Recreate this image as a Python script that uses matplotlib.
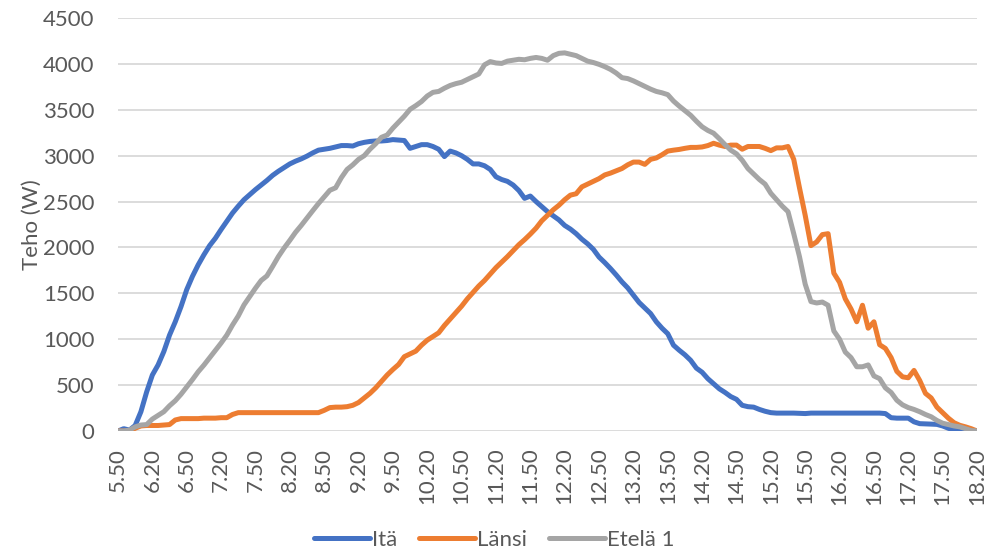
import matplotlib
matplotlib.use("Agg")
import matplotlib.pyplot as plt
import numpy as np

plt.rcParams['font.family'] = ['Lato', 'DejaVu Sans']

tick_labels = ["5.50", "6.20", "6.50", "7.20", "7.50", "8.20", "8.50", "9.20", "9.50",
               "10.20", "10.50", "11.20", "11.50", "12.20", "12.50", "13.20", "13.50",
               "14.20", "14.50", "15.20", "15.50", "16.20", "16.50", "17.20", "17.50", "18.20"]

ita = [0, 25, 10, 60, 210, 425, 610, 720, 865, 1045, 1190, 1355, 1540, 1685, 1810,
       1920, 2020, 2100, 2195, 2285, 2375, 2450, 2520, 2575, 2630, 2680, 2730, 2785,
       2830, 2870, 2910, 2940, 2965, 2995, 3030, 3060, 3070, 3080, 3095, 3110, 3110,
       3105, 3130, 3145, 3155, 3160, 3160, 3165, 3175, 3170, 3165, 3080, 3100, 3120,
       3120, 3100, 3070, 2990, 3050, 3030, 3000, 2960, 2910, 2910, 2890, 2850, 2770,
       2740, 2720, 2680, 2620, 2535, 2560, 2500, 2445, 2390, 2345, 2300, 2240, 2200, 2150,
       2090, 2040, 1980, 1895, 1835, 1770, 1700, 1625, 1560, 1480, 1400, 1340, 1280,
       1190, 1120, 1060, 935, 880, 830, 770, 685, 640, 570, 515, 460, 420, 375, 345,
       280, 265, 260, 235, 215, 200, 195, 195, 195, 195, 192, 190,
       195, 195, 195, 195, 195, 195, 195, 195, 195, 195, 195, 195, 195, 190, 145, 140,
       140, 140, 100, 80, 78, 75, 72, 55, 30, 10, 0, 0, 0, 0]

lansi = [0, 0, 0, 30, 55, 60, 60, 60, 65, 70, 120, 135, 135, 135, 135, 140, 140, 140,
         145, 145, 180, 200, 200, 200, 200, 200, 200, 200, 200, 200, 200, 200, 200, 200,
         200, 200, 225, 255, 260, 260, 265,
         280, 310, 360, 410, 470, 540, 610, 670, 725, 810, 840, 870, 935, 990, 1030, 1070,
         1150, 1220, 1290, 1360, 1440, 1510, 1580, 1640, 1710, 1780, 1840, 1900, 1965,
         2030, 2085, 2145, 2210, 2290, 2350, 2410, 2460, 2520, 2570, 2585,
         2660, 2690, 2720, 2750, 2790, 2810, 2835, 2860, 2900, 2930, 2930, 2905, 2960,
         2975, 3010, 3050, 3060, 3068, 3080, 3090, 3090, 3095, 3110, 3135, 3115, 3100,
         3115, 3115, 3070, 3100, 3100,
         3100, 3080, 3055, 3085, 3085, 3100, 2960, 2650, 2350, 2020, 2060, 2140, 2150,
         1720, 1620, 1440, 1330, 1190, 1370, 1120, 1190, 940, 900, 800, 650, 590, 580,
         660, 550, 410, 360, 260, 200, 140, 90, 62, 45, 25, 0]

etela1 = [0, 0, 10, 45, 65, 70, 130, 170, 210, 275, 330, 400, 480, 560, 645, 718, 798,
          878, 958, 1045, 1155, 1253, 1374, 1465, 1556, 1640, 1690, 1793, 1900, 1993,
          2077, 2165, 2240, 2320, 2400, 2478, 2550, 2623, 2650, 2760, 2850,
          2900, 2960, 3000, 3070, 3130, 3200, 3225, 3300, 3365, 3430, 3505, 3545, 3590,
          3650, 3690, 3700, 3735, 3765, 3785, 3800, 3830, 3860, 3890, 3990, 4025, 4010,
          4005, 4030, 4040, 4050, 4045, 4060, 4070, 4060, 4040, 4090, 4115, 4120, 4105, 4090,
          4060, 4030, 4015, 3995, 3970, 3940, 3900, 3850, 3840, 3815, 3785, 3755, 3725,
          3700, 3685, 3665, 3595, 3540, 3490, 3440, 3375, 3315, 3275, 3245, 3185, 3120,
          3060, 3020, 2950, 2860, 2800,
          2740, 2690, 2590, 2520, 2450, 2390, 2150, 1900, 1600, 1410, 1395, 1405, 1370,
          1090, 1000, 860, 800, 700, 700, 720, 600, 570, 470, 420, 335, 285, 255, 235,
          210, 180, 155, 115, 85, 70, 55, 45, 25, 5, 0]

series = [("Itä", ita, "#4472C4"), ("Länsi", lansi, "#ED7D31"), ("Etelä 1", etela1, "#A5A5A5")]

fig = plt.figure(figsize=(9.89, 5.52), dpi=100)
ax = fig.add_axes([118 / 989, 1 - 431 / 552, (977 - 118) / 989, (431 - 18) / 552])

x = np.arange(len(ita))
for name, vals, col in series:
    ax.plot(x, vals, color=col, lw=3.6, label=name, solid_capstyle='round',
            solid_joinstyle='round')

FS = 16
ax.set_xlim(0, len(ita) - 1)
ax.set_ylim(0, 4500)
ax.set_yticks(np.arange(0, 4501, 500))
ax.yaxis.grid(True, color="#D9D9D9", lw=1.3)
ax.set_axisbelow(True)
step = (len(ita) - 1) // (len(tick_labels) - 1)
ax.set_xticks(np.arange(0, len(ita), step))
ax.set_xticklabels(tick_labels, rotation=90)
for s in ax.spines.values():
    s.set_visible(False)
ax.tick_params(axis='both', length=0, colors="#595959", labelsize=FS)
ax.tick_params(axis='x', pad=12)
ax.tick_params(axis='y', pad=17)
ax.set_ylabel("Teho (W)", fontsize=FS, color="#595959", labelpad=1)

fig.legend(loc='lower center', bbox_to_anchor=(0.5, -0.032), ncol=3, frameon=False,
           fontsize=FS, handlelength=2.5, handletextpad=0.1, columnspacing=1.0,
           labelcolor="#595959")

fig.savefig("out.png", dpi=100, facecolor="white")
